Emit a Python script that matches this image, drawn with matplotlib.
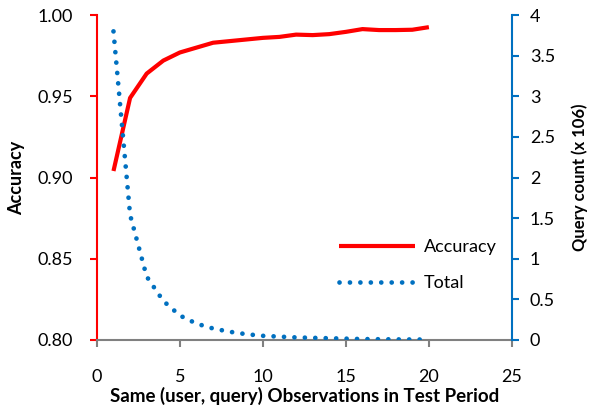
import matplotlib.pyplot as plt
import numpy as np

plt.rcParams['font.family'] = ['Lato', 'DejaVu Sans']

# observations count
obs = list(range(1, 21))
# accuracy per number of observations
accuracy = [0.904, 0.949, 0.964, 0.972, 0.977, 0.980, 0.983, 0.984, 0.985, 0.986,
            0.9866, 0.988, 0.9877, 0.9883, 0.9897, 0.9914, 0.9908, 0.9908, 0.991, 0.9926]
# total query count (x 10^6)
total = [3.80, 1.54, 0.78, 0.48, 0.30, 0.20, 0.14, 0.10, 0.07, 0.05,
         0.04, 0.03, 0.025, 0.02, 0.015, 0.01, 0.008, 0.006, 0.005, 0.004]

red = '#FF0000'
blue = '#0070C0'
grey = '#808080'

fig = plt.figure(figsize=(5.98, 4.09), dpi=100)
ax = fig.add_axes([0.162, 0.169, 0.694, 0.794])
ax2 = ax.twinx()

l1, = ax.plot(obs, accuracy, color=red, lw=3, solid_capstyle='butt', label='Accuracy', zorder=3)
l2, = ax2.plot(obs, total, color=blue, lw=3.4, linestyle=(0, (0.01, 2.2)),
               dash_capstyle='round', label='Total')

ax.set_xlim(0, 25)
ax.set_ylim(0.80, 1.00)
ax2.set_ylim(0, 4)
ax.set_xticks([0, 5, 10, 15, 20, 25])
ax.set_yticks([0.80, 0.85, 0.90, 0.95, 1.00])
ax.set_yticklabels(['0.80', '0.85', '0.90', '0.95', '1.00'])
ax2.set_yticks([0, 0.5, 1, 1.5, 2, 2.5, 3, 3.5, 4])
ax2.set_yticklabels(['0', '0.5', '1', '1.5', '2', '2.5', '3', '3.5', '4'])

for a in (ax, ax2):
    a.spines['top'].set_visible(False)
ax.spines['right'].set_visible(False)
ax2.spines['left'].set_visible(False)
ax2.spines['bottom'].set_visible(False)
ax.spines['left'].set_color(red)
ax.spines['left'].set_linewidth(1.5)
ax2.spines['right'].set_color(blue)
ax2.spines['right'].set_linewidth(1.5)
ax.spines['bottom'].set_color(grey)
ax.spines['bottom'].set_linewidth(1.5)

ax.tick_params(axis='y', colors=red, labelcolor='black', labelsize=13, length=5, width=1.5, pad=12)
ax2.tick_params(axis='y', colors=blue, labelcolor='black', labelsize=13, length=5, width=1.5, pad=8)
ax.tick_params(axis='x', colors=grey, labelcolor='black', labelsize=13, length=5, width=1.5, pad=16)

ax.set_ylabel('Accuracy', fontsize=13, fontweight='bold', labelpad=9)
ax2.set_ylabel('Query count (x 106)', fontsize=12, fontweight='bold', labelpad=12)
ax.set_xlabel('Same (user, query) Observations in Test Period', fontsize=13.5,
              fontweight='bold', labelpad=1)

ax.legend([l1, l2], ['Accuracy', 'Total'], loc='upper left', bbox_to_anchor=(0.545, 0.36),
          frameon=False, fontsize=13, handlelength=4.2, handletextpad=0.5, labelspacing=1.1)

fig.savefig('out.png', dpi=100)
